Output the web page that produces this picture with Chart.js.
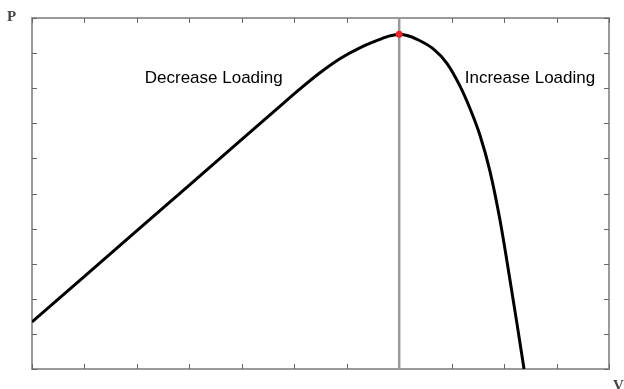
<!DOCTYPE html>
<html>
<head>
<meta charset="utf-8">
<script src="https://cdn.jsdelivr.net/npm/chart.js@4"></script>
<style>
  html, body { margin: 0; padding: 0; background: #fff; }
  #wrap { width: 624px; height: 389px; }
</style>
</head>
<body>
<div id="wrap"><canvas id="myChart"></canvas></div>
<script>
// P-V curve (x in tick units 0..11, y in tick units 0..10)
const curveX = [0, 1, 2, 3, 4, 4.73, 5.11, 5.49, 5.87, 6.25, 6.63, 6.82, 7, 7.15, 7.33, 7.65, 7.91, 8.16, 8.35, 8.54, 8.73, 8.92, 9.11, 9.25, 9.38];
const curveY = [1.34, 2.64, 3.94, 5.24, 6.54, 7.49, 7.98, 8.44, 8.84, 9.15, 9.39, 9.49, 9.54, 9.5, 9.4, 9.12, 8.71, 8.06, 7.42, 6.66, 5.64, 4.26, 2.56, 1.25, 0.0];
const peakX = 7;
const peakY = 9.54;
const xTicks = [0, 1, 2, 3, 4, 5, 6, 7, 8, 9, 10, 11];
const yTicks = [0, 1, 2, 3, 4, 5, 6, 7, 8, 9, 10];
const labels = ["Decrease Loading", "Increase Loading"];

const ctx = document.getElementById("myChart");

const framePlugin = {
  id: "frame",
  beforeDatasetsDraw(chart) {
    const { ctx, chartArea: a, scales } = chart;
    ctx.save();
    ctx.strokeStyle = "#9a9a9a";
    ctx.lineWidth = 2;
    ctx.strokeRect(a.left, a.top, a.right - a.left, a.bottom - a.top);
    ctx.strokeStyle = "#666";
    ctx.lineWidth = 1;
    ctx.beginPath();
    xTicks.forEach((t) => {
      const x = Math.round(scales.x.getPixelForValue(t)) + 0.5;
      ctx.moveTo(x, a.bottom); ctx.lineTo(x, a.bottom - 5);
      ctx.moveTo(x, a.top); ctx.lineTo(x, a.top + 5);
    });
    yTicks.forEach((t) => {
      const y = Math.round(scales.y.getPixelForValue(t)) + 0.5;
      ctx.moveTo(a.left, y); ctx.lineTo(a.left + 5, y);
      ctx.moveTo(a.right, y); ctx.lineTo(a.right - 5, y);
    });
    ctx.stroke();
    ctx.restore();
  },
  afterDraw(chart) {
    const { ctx, scales } = chart;
    ctx.save();
    ctx.font = "17px 'Liberation Sans', Arial, sans-serif";
    ctx.textBaseline = "alphabetic";
    ctx.fillStyle = "#000";
    ctx.fillText(labels[0], scales.x.getPixelForValue(2.15), 83);
    const w = ctx.measureText(labels[1]).width;
    const lx = scales.x.getPixelForValue(8.25);
    ctx.fillStyle = "#fff";
    ctx.fillRect(lx - 2, 64, w + 4, 24);
    ctx.fillStyle = "#000";
    ctx.fillText(labels[1], lx, 83);
    ctx.font = "bold 15px 'Liberation Serif', 'DejaVu Serif', serif";
    ctx.fillStyle = "#444";
    ctx.fillText("P", 7, 21);
    ctx.fillText("V", 613, 390);
    ctx.restore();
  }
};

new Chart(ctx, {
  type: "scatter",
  data: {
    datasets: [
      {
        label: "marker",
        data: [{ x: peakX, y: peakY }],
        pointRadius: 3.5,
        pointBackgroundColor: "#e8262a",
        pointBorderWidth: 0,
        order: 0,
      },
      {
        label: "P-V",
        data: curveX.map((x, i) => ({ x: x, y: curveY[i] })),
        showLine: true,
        borderColor: "#000",
        borderWidth: 3,
        pointRadius: 0,
        cubicInterpolationMode: "monotone",
        order: 1,
      },
      {
        label: "critical",
        data: [{ x: peakX, y: 0 }, { x: peakX, y: 10 }],
        showLine: true,
        borderColor: "#999",
        borderWidth: 2.5,
        pointRadius: 0,
        order: 2,
      },
    ],
  },
  options: {
    responsive: true,
    maintainAspectRatio: false,
    animation: false,
    layout: { padding: { left: 32, right: 15, top: 18, bottom: 20 } },
    scales: {
      x: { type: "linear", min: 0, max: 11, display: false },
      y: { type: "linear", min: 0, max: 10, display: false },
    },
    plugins: {
      legend: { display: false },
      tooltip: { enabled: false },
    },
  },
  plugins: [framePlugin],
});
</script>
</body>
</html>
